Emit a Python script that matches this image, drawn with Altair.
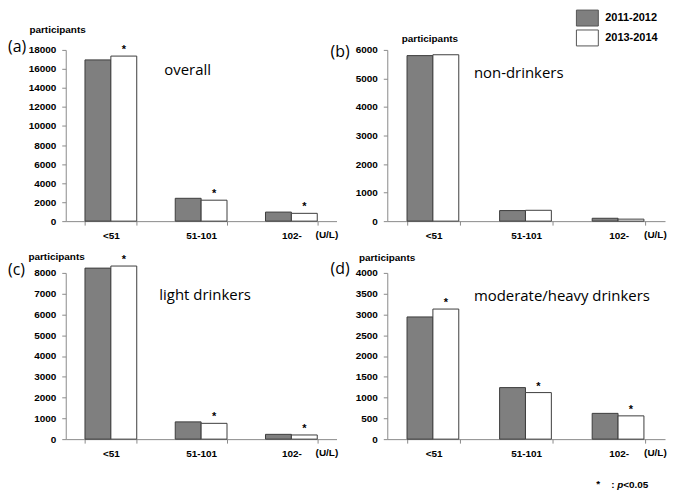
import altair as alt
import pandas as pd

categories = ["<51", "51-101", "102-"]
periods = ["2011-2012", "2013-2014"]
panel_letters = ["(a)", "(b)", "(c)", "(d)"]
panel_titles = ["overall", "non-drinkers", "light drinkers", "moderate/heavy drinkers"]

overall_2011 = [16950, 2400, 950]
overall_2013 = [17350, 2200, 820]
overall_sig = [1, 1, 1]

non_2011 = [5800, 370, 100]
non_2013 = [5830, 380, 70]
non_sig = [0, 0, 0]

light_2011 = [8230, 830, 230]
light_2013 = [8330, 760, 200]
light_sig = [1, 1, 1]

mod_2011 = [2940, 1240, 620]
mod_2013 = [3130, 1120, 560]
mod_sig = [1, 1, 1]

yticks_a = [0, 2000, 4000, 6000, 8000, 10000, 12000, 14000, 16000, 18000]
yticks_b = [0, 1000, 2000, 3000, 4000, 5000, 6000]
yticks_c = [0, 1000, 2000, 3000, 4000, 5000, 6000, 7000, 8000]
yticks_d = [0, 500, 1000, 1500, 2000, 2500, 3000, 3500, 4000]

unit_label = "(U/L)"
y_title = "participants"
foot_star = "*"
foot_colon = ":"
foot_p = "p"
foot_rest = "<0.05"

FONT_AX = "Liberation Sans"
FONT_TXT = "Open Sans"
BAR_COLORS = ["#7f7f7f", "#ffffff"]
STROKE = "#3c3c3c"


def make_df(v1, v2, sig):
    rows = []
    for i, c in enumerate(categories):
        rows.append(dict(category=c, period=periods[0], value=v1[i], sig=0))
        rows.append(dict(category=c, period=periods[1], value=v2[i], sig=sig[i]))
    return pd.DataFrame(rows)


def txt(text, x, y, size, font, weight="normal", align="left", style="normal"):
    return alt.Chart(pd.DataFrame({"t": [text]})).mark_text(
        align=align, baseline="middle", font=font, fontSize=size,
        fontWeight=weight, fontStyle=style, color="black"
    ).encode(x=alt.value(x), y=alt.value(y), text="t:N")


def rect(x, x2, y, y2, fill):
    return alt.Chart(pd.DataFrame({"t": [0]})).mark_rect(
        fill=fill, stroke="#555555", strokeWidth=1
    ).encode(x=alt.value(x), x2=alt.value(x2), y=alt.value(y), y2=alt.value(y2))


def panel(df, yticks, width, height, letter, lx, ly, title, tx, ty, ytx, yty, extra=()):
    x = alt.X("category:N", sort=categories,
              scale=alt.Scale(domain=categories, paddingInner=0.4265, paddingOuter=0.21325),
              axis=alt.Axis(title=None, labelAngle=0, tickBand="extent",
                            labelPadding=5, tickSize=4))
    xo = alt.XOffset("period:N", sort=periods,
                     scale=alt.Scale(domain=periods, paddingInner=0, paddingOuter=0))
    y = alt.Y("value:Q",
              scale=alt.Scale(domain=[0, yticks[-1]], nice=False, zero=True),
              axis=alt.Axis(values=yticks, tickCount=len(yticks), title=y_title, titleAngle=0,
                            titleAlign="left", titleBaseline="middle",
                            titleX=ytx, titleY=yty, grid=False, tickSize=4,
                            labelPadding=6, format="d", labelOverlap=False))
    base = alt.Chart(df)
    bars = base.mark_bar(stroke=STROKE, strokeWidth=1).encode(
        x=x, xOffset=xo, y=y,
        fill=alt.Fill("period:N", scale=alt.Scale(domain=periods, range=BAR_COLORS), legend=None),
    )
    stars = base.transform_filter("datum.sig == 1").mark_text(
        text="*", baseline="bottom", dy=-1, fontSize=11, fontWeight="bold",
        font=FONT_AX, color="black"
    ).encode(x=x, xOffset=xo, y=y)
    layers = [bars, stars,
              txt(letter, lx, ly, 16, FONT_TXT),
              txt(title, tx, ty, 15, FONT_TXT),
              txt(unit_label, width - 21, height + 14, 10, FONT_AX, weight="bold")]
    layers += list(extra)
    return alt.layer(*layers).properties(width=width, height=height)


legend_layers = [
    rect(190, 212, -40, -24, BAR_COLORS[0]),
    rect(190, 212, -20, -4, BAR_COLORS[1]),
    txt(periods[0], 219, -32, 11, FONT_AX, weight="bold"),
    txt(periods[1], 219, -12, 11, FONT_AX, weight="bold"),
]

foot_layers = [
    txt(foot_star, 210, 212, 10, FONT_AX, weight="bold"),
    txt(foot_colon, 225, 213, 10, FONT_AX, weight="bold"),
    txt(foot_p, 231, 213, 10, FONT_AX, weight="bold", style="italic"),
    txt(foot_rest, 237, 213, 10, FONT_AX, weight="bold"),
]

pa = panel(make_df(overall_2011, overall_2013, overall_sig), yticks_a, 272, 172,
           panel_letters[0], -58, -3, panel_titles[0], 99, 20, -37, -20)
pb = panel(make_df(non_2011, non_2013, non_sig), yticks_b, 279, 172,
           panel_letters[1], -57, 2, panel_titles[1], 87, 23, 14, -11, extra=legend_layers)
pc = panel(make_df(light_2011, light_2013, light_sig), yticks_c, 272, 167,
           panel_letters[2], -58, -3, panel_titles[2], 94, 22, -38, -16)
pdd = panel(make_df(mod_2011, mod_2013, mod_sig), yticks_d, 279, 167,
            panel_letters[3], -57, -4, panel_titles[3], 87, 23, -29, -15, extra=foot_layers)

chart = alt.concat(
    pa, pb, pc, pdd, columns=2,
    spacing=alt.RowColnumber(row=52, column=51), bounds="flush",
).properties(padding=0).configure_axis(
    domainColor="#8a8a8a", tickColor="#8a8a8a",
    labelFont=FONT_AX, labelFontWeight="bold", labelFontSize=10, labelColor="black",
    titleFont=FONT_AX, titleFontWeight="bold", titleFontSize=10, titleColor="black",
    labelOverlap=False,
).configure_view(stroke=None)

chart.save("out.html", embed_options={"renderer": "svg", "actions": False})
